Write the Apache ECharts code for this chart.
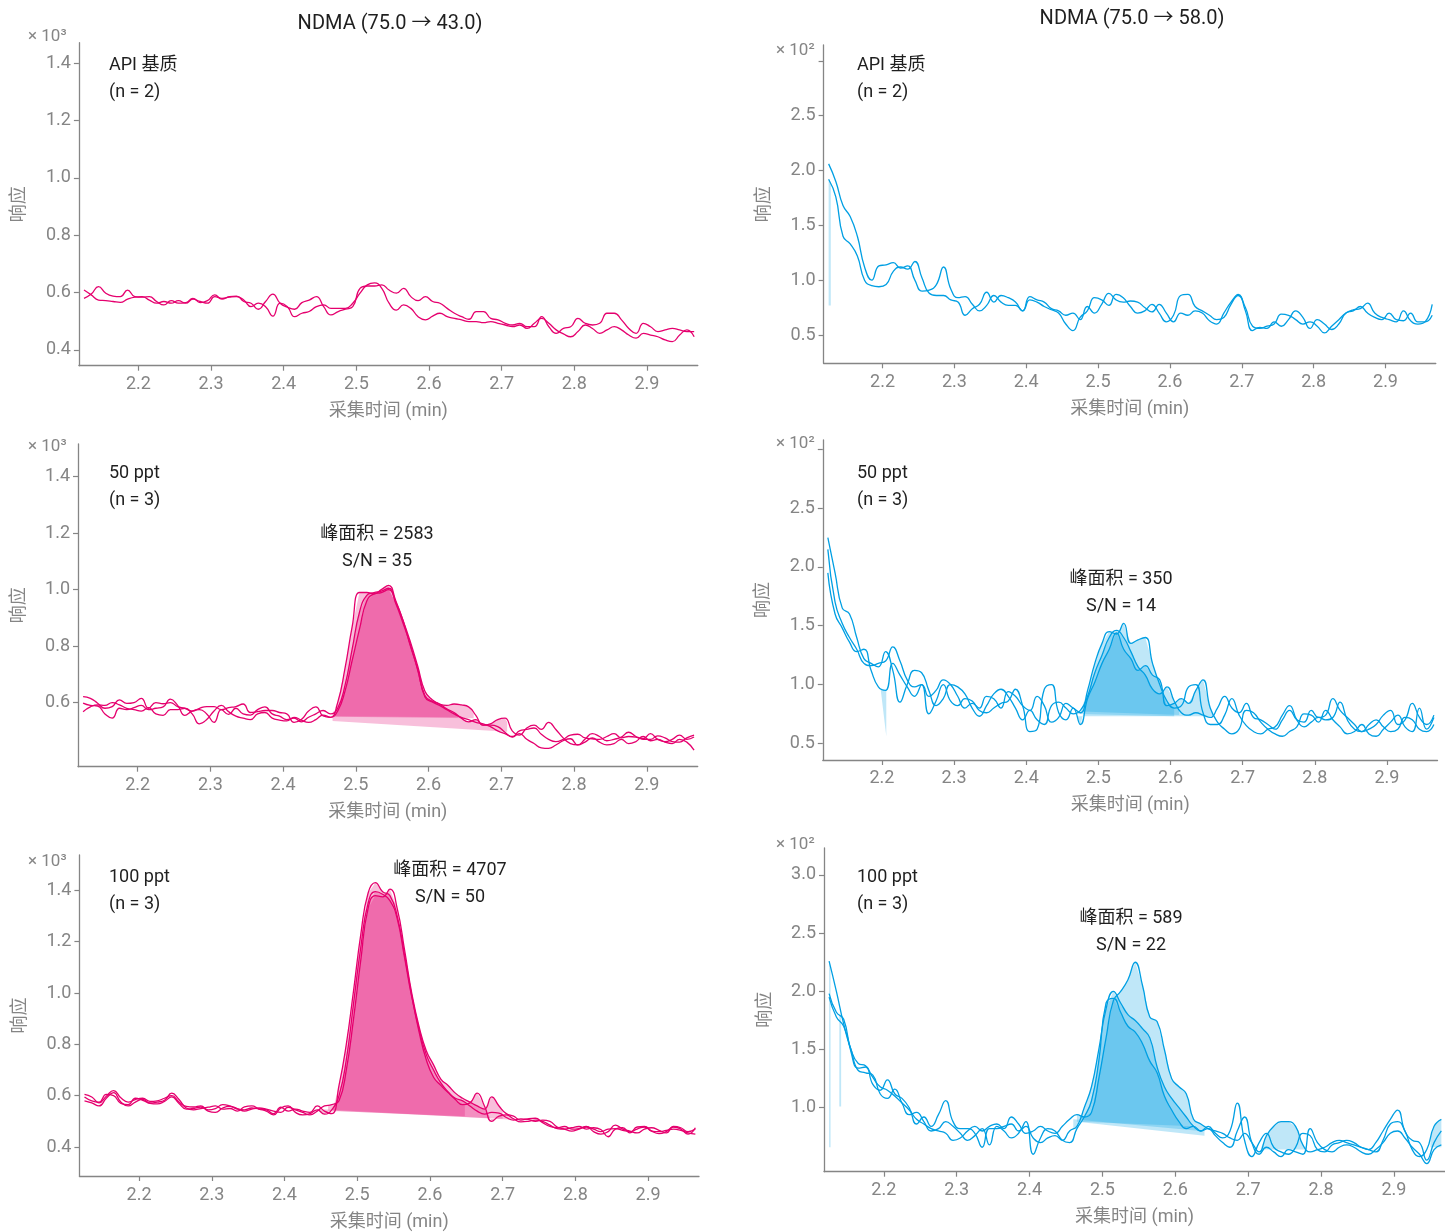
<!DOCTYPE html>
<html>
<head>
<meta charset="utf-8">
<script src="https://cdn.jsdelivr.net/npm/echarts@6/dist/echarts.min.js"></script>
<style>
  html, body { margin: 0; padding: 0; background: #fff; }
  #chart { width: 1445px; height: 1232px; }
</style>
</head>
<body>
<div id="chart"></div>
<script>
// Acquisition times (min), shared by every chromatogram trace
const times = [
  2.125,2.135,2.145,2.155,2.165,2.175,2.185,2.195,2.205,2.215,
  2.225,2.235,2.245,2.255,2.265,2.275,2.285,2.295,2.305,2.315,
  2.325,2.335,2.345,2.355,2.365,2.375,2.385,2.395,2.405,2.415,
  2.425,2.435,2.445,2.455,2.465,2.475,2.485,2.495,2.505,2.515,
  2.525,2.535,2.545,2.555,2.565,2.575,2.585,2.595,2.605,2.615,
  2.625,2.635,2.645,2.655,2.665,2.675,2.685,2.695,2.705,2.715,
  2.725,2.735,2.745,2.755,2.765,2.775,2.785,2.795,2.805,2.815,
  2.825,2.835,2.845,2.855,2.865,2.875,2.885,2.895,2.905,2.915,
  2.925,2.935,2.945,2.955,2.965
];

// NDMA 75.0 -> 43.0, API matrix (n = 2), response counts
const q43_api_1 = [609,592,574,572,569,566,577,584,586,574,563,569,563,572,563,577,569,563,586,580,584,586,574,551,563,551,518,563,551,516,528,534,551,557,545,545,545,563,598,627,634,615,563,539,557,545,516,505,518,528,516,510,505,499,499,495,499,493,487,481,487,475,493,510,493,470,456,446,464,487,475,458,470,481,470,452,441,458,452,446,435,429,452,470,446];
const q43_api_2 = [580,595,621,598,588,586,609,586,584,586,569,557,572,563,565,580,565,572,592,577,586,588,569,563,542,569,595,563,549,542,565,574,586,551,522,534,542,551,615,623,623,627,609,598,615,586,572,586,569,563,545,528,516,507,534,534,510,505,493,487,493,481,481,516,481,458,475,481,510,493,487,493,528,528,505,475,458,493,481,464,470,475,470,464,464];

// NDMA 75.0 -> 58.0, API matrix (n = 2)
const q58_api_1 = [206,190,168,158,140,112,100,113,114,116,111,113,100,90,91,96,112,92,84,85,78,72,77,86,80,77,77,72,82,80,76,73,70,60,54,66,72,84,82,77,87,84,76,70,72,78,70,62,68,86,87,76,72,68,64,66,78,86,75,58,56,58,60,69,68,64,60,62,58,52,58,64,70,73,74,79,70,66,64,62,72,63,60,62,78];
const q58_api_2 = [192,176,140,133,122,100,95,94,96,108,112,110,117,102,88,86,86,82,80,68,74,78,89,80,86,84,80,72,85,82,80,74,72,68,70,64,76,70,78,88,82,80,81,80,75,71,78,70,62,70,68,72,70,63,60,70,80,87,72,54,57,56,62,58,64,72,66,56,64,60,55,60,70,72,76,70,66,64,70,64,63,70,62,62,68];

// NDMA 75.0 -> 43.0, 50 ppt (n = 3)
const q43_50_1 = [621,615,598,580,586,610,597,600,615,580,600,596,600,586,580,570,580,586,586,575,582,586,595,565,568,572,572,565,560,530,540,570,585,553,548,600,720,870,990,990,985,1000,1015,960,890,800,720,620,602,590,575,560,548,540,530,525,515,500,490,480,500,505,510,488,470,462,470,485,488,475,472,470,480,490,475,480,478,470,470,482,475,462,460,475,485];
const q43_50_2 = [598,590,588,560,545,580,575,582,590,575,580,585,612,590,555,570,575,560,530,575,558,580,560,556,575,585,560,552,540,545,532,548,560,572,560,580,660,790,920,980,990,995,1005,950,880,805,715,625,605,595,578,565,545,532,540,520,525,540,545,500,485,510,520,505,530,505,475,455,450,470,490,480,465,470,478,495,480,472,490,470,462,470,485,470,478];
const q43_50_3 = [568,585,592,590,600,592,580,575,570,582,560,555,575,575,580,560,525,540,570,590,568,552,545,540,560,565,545,538,535,548,538,530,540,556,548,570,640,750,860,960,985,990,1000,955,890,815,730,640,610,595,590,595,592,585,555,520,520,515,495,478,490,470,455,440,438,450,465,472,450,460,475,460,450,455,470,455,462,480,465,470,460,455,470,460,432];

// NDMA 75.0 -> 58.0, 50 ppt (n = 3)
const q58_50_1 = [225,195,165,160,140,122,118,115,128,112,85,100,112,110,95,82,88,100,98,92,80,73,82,92,96,90,80,70,78,70,66,82,85,80,75,78,90,110,125,140,146,140,128,115,108,96,92,98,86,76,74,76,74,72,80,90,80,76,84,72,70,66,62,70,78,70,68,78,72,74,88,78,72,66,60,62,66,74,78,66,70,84,72,66,74];
const q58_50_2 = [215,170,152,140,130,118,116,118,120,132,120,104,98,100,90,95,104,100,90,80,84,80,90,88,80,94,90,82,78,90,82,68,72,84,80,76,95,118,135,145,143,152,135,138,140,118,100,86,80,82,98,100,76,66,66,74,88,74,65,60,58,62,64,74,82,70,64,68,72,70,72,85,70,62,60,66,70,64,60,62,72,70,62,60,66];
const q58_50_3 = [195,160,148,136,128,130,112,98,95,118,108,98,90,100,75,86,100,86,82,88,86,78,76,80,84,86,96,82,60,62,96,100,76,70,80,66,88,102,118,130,144,130,122,112,116,108,104,82,84,88,84,95,104,80,68,62,58,62,78,76,68,62,58,56,60,64,75,74,68,78,70,64,58,60,66,58,56,62,68,74,64,60,80,62,72];

// NDMA 75.0 -> 43.0, 100 ppt (n = 3)
const q43_100_1 = [605,595,572,598,620,592,575,585,590,578,580,590,600,575,558,556,560,545,550,565,560,548,545,552,548,545,530,555,540,548,540,535,560,540,530,640,800,1010,1230,1390,1430,1395,1380,1300,1150,990,850,740,672,640,612,590,580,560,540,528,535,532,515,505,510,508,500,505,500,478,470,462,470,478,470,460,470,472,465,460,470,478,462,460,465,470,465,455,450];
const q43_100_2 = [595,580,575,605,600,570,565,590,582,572,575,582,610,585,552,545,550,555,560,548,550,540,556,560,548,540,525,552,560,535,525,530,545,528,545,600,740,960,1180,1350,1395,1385,1360,1290,1140,985,860,760,700,650,615,585,565,572,610,560,500,520,525,510,498,500,505,500,485,472,470,475,480,470,475,468,440,470,475,455,478,480,462,452,460,478,470,450,475];
const q43_100_3 = [580,572,560,590,612,575,560,575,586,570,568,578,595,570,548,550,556,540,535,552,558,550,540,548,552,548,540,535,555,545,535,525,540,560,565,580,700,900,1130,1330,1380,1375,1405,1330,1170,1000,870,775,720,665,640,610,590,575,560,548,595,560,530,520,505,510,512,495,480,475,480,470,472,480,460,450,460,485,470,462,455,470,475,465,455,480,475,460,470];

// NDMA 75.0 -> 58.0, 100 ppt (n = 3)
const q58_100_1 = [226,200,172,150,138,136,126,118,115,110,104,98,90,86,82,80,78,72,74,80,84,80,84,86,82,92,86,78,80,84,80,78,84,90,94,92,96,125,160,192,200,210,225,205,178,174,150,125,118,112,90,86,82,80,78,74,72,78,70,62,76,84,88,88,84,68,62,64,66,70,72,70,68,66,64,62,72,86,88,80,64,58,64,84,90];
const q58_100_2 = [198,182,176,148,134,135,120,115,124,112,108,100,86,92,84,94,106,88,82,82,78,66,82,82,84,86,80,84,74,70,74,76,72,80,84,100,118,150,185,200,190,180,175,168,160,135,118,108,100,92,84,80,84,78,74,80,104,72,58,70,78,66,62,60,66,78,76,64,62,68,70,72,70,66,64,70,80,90,98,80,72,70,55,70,80];
const q58_100_3 = [195,178,170,150,132,130,128,112,108,116,104,94,96,88,80,82,88,84,78,72,76,82,68,84,80,74,78,88,60,74,82,80,72,70,82,92,106,140,190,194,182,170,165,155,140,130,110,98,88,82,84,80,82,76,70,66,80,92,70,60,66,62,58,64,62,60,82,70,64,62,66,68,66,62,60,64,70,78,80,74,66,60,52,64,68];

// Integration windows: [replicate, start time, end time, baseline at start, baseline at end]
const fills43_api = [];
const fills58_api = [[1, 2.125, 2.128, 77, 77]];
const fills43_50 = [[0, 2.472, 2.640, 552, 548], [2, 2.470, 2.662, 550, 545], [1, 2.468, 2.708, 535, 497]];
const fills58_50 = [[2, 2.198, 2.206, 97, 56], [0, 2.478, 2.612, 77, 74], [1, 2.472, 2.605, 75, 73], [2, 2.470, 2.662, 73, 73]];
const fills43_100 = [[0, 2.465, 2.648, 540, 520], [1, 2.445, 2.720, 548, 505], [2, 2.460, 2.700, 542, 510]];
const fills58_100 = [[0, 2.125, 2.127, 66, 66], [1, 2.139, 2.1415, 101, 101], [0, 2.465, 2.640, 88, 76], [1, 2.460, 2.635, 90, 80], [2, 2.470, 2.625, 88, 84], [0, 2.718, 2.780, 64, 64], [0, 2.950, 2.965, 66, 66]];

// Axis ticks
const xTicks = [2.2, 2.3, 2.4, 2.5, 2.6, 2.7, 2.8, 2.9];
const yTicks43 = [400, 600, 800, 1000, 1200, 1400];
const yTicks43_50 = [600, 800, 1000, 1200, 1400];
const yTicks58 = [50, 100, 150, 200, 250, 300];
const yLabels58 = [50, 100, 150, 200, 250];
const yTicks58_100 = [100, 150, 200, 250, 300];

// Texts
const titles = ['NDMA (75.0 \u2192 43.0)', 'NDMA (75.0 \u2192 58.0)'];
const sampleNames = ['API 基质', 'API 基质', '50 ppt', '50 ppt', '100 ppt', '100 ppt'];
const replicateNotes = ['(n = 2)', '(n = 2)', '(n = 3)', '(n = 3)', '(n = 3)', '(n = 3)'];
const peakAreas = [null, null, 2583, 350, 4707, 589];
const signalToNoise = [null, null, 35, 14, 50, 22];

const PINK = '#e5006e';
const BLUE = '#009fe3';
const GRAY = '#858585';
const INK = '#1f1f1f';
const FONT = 'Roboto, "Noto Sans CJK SC", sans-serif';

function rgba(hex, a) {
  const n = parseInt(hex.slice(1), 16);
  return 'rgba(' + (n >> 16 & 255) + ',' + (n >> 8 & 255) + ',' + (n & 255) + ',' + a + ')';
}

// Panel layout (pixel boxes and y ranges)
const panels = [
  { traces: [q43_api_1, q43_api_2], fills: fills43_api, color: PINK, div: 1000, ticks: yTicks43, labels: yTicks43, yr: [345, 1472],
    grid: { left: 78.9, top: 42.7, width: 618.9, height: 323 }, mag: '\u00d7 10\u00b3', magAt: [28, 37], noteAt: [109, 65], peakAt: null },
  { traces: [q58_api_1, q58_api_2], fills: fills58_api, color: BLUE, div: 100, ticks: yTicks58, labels: yLabels58, yr: [24.2, 314.4],
    grid: { left: 823.6, top: 45, width: 612.2, height: 318.3 }, mag: '\u00d7 10\u00b2', magAt: [776, 51], noteAt: [857, 65], peakAt: null },
  { traces: [q43_50_1, q43_50_2, q43_50_3], fills: fills43_50, color: PINK, div: 1000, ticks: yTicks43_50, labels: yTicks43_50, yr: [373, 1516],
    grid: { left: 78, top: 444, width: 619.7, height: 322.7 }, mag: '\u00d7 10\u00b3', magAt: [28, 447], noteAt: [109, 473], peakAt: [377, 534] },
  { traces: [q58_50_1, q58_50_2, q58_50_3], fills: fills58_50, color: BLUE, div: 100, ticks: yTicks58, labels: yLabels58, yr: [35.8, 308],
    grid: { left: 822.8, top: 440, width: 614.7, height: 320 }, mag: '\u00d7 10\u00b2', magAt: [776, 444], noteAt: [857, 473], peakAt: [1121, 579] },
  { traces: [q43_100_1, q43_100_2, q43_100_3], fills: fills43_100, color: PINK, div: 1000, ticks: yTicks43, labels: yTicks43, yr: [287, 1538],
    grid: { left: 79.4, top: 855, width: 619.6, height: 323.3 }, mag: '\u00d7 10\u00b3', magAt: [28, 862], noteAt: [109, 877], peakAt: [450, 870] },
  { traces: [q58_100_1, q58_100_2, q58_100_3], fills: fills58_100, color: BLUE, div: 100, ticks: yTicks58_100, labels: yTicks58_100, yr: [45, 323.2],
    grid: { left: 824, top: 848, width: 622, height: 323.7 }, mag: '\u00d7 10\u00b2', magAt: [776, 845], noteAt: [857, 877], peakAt: [1131, 918] }
];

function valueAt(trace, t) {
  for (let i = 0; i < times.length - 1; i++) {
    if (t >= times[i] && t <= times[i + 1]) {
      const f = (t - times[i]) / (times[i + 1] - times[i]);
      return trace[i] + f * (trace[i + 1] - trace[i]);
    }
  }
  return t < times[0] ? trace[0] : trace[trace.length - 1];
}

const grid = [], xAxis = [], yAxis = [], series = [], graphic = [];

panels.forEach((p, k) => {
  grid.push(Object.assign({ containLabel: false }, p.grid));
  xAxis.push({
    gridIndex: k, type: 'value', min: 2.118, max: 2.97,
    name: '采集时间 (min)', nameLocation: 'middle', nameGap: 37,
    nameTextStyle: { color: GRAY, fontSize: 18, fontFamily: FONT },
    axisLine: { onZero: false, lineStyle: { color: GRAY, width: 1.3 } },
    axisTick: { length: 5, customValues: xTicks, lineStyle: { color: GRAY, width: 1.2 } },
    axisLabel: { customValues: xTicks, margin: 10, color: GRAY, fontSize: 18, fontFamily: FONT,
      formatter: v => v.toFixed(1) },
    splitLine: { show: false }
  });
  yAxis.push({
    gridIndex: k, type: 'value', min: p.yr[0], max: p.yr[1],
    name: '响应', nameLocation: 'middle', nameGap: 50, nameRotate: 90,
    nameTextStyle: { color: GRAY, fontSize: 18, fontFamily: FONT },
    axisLine: { show: true, lineStyle: { color: GRAY, width: 1.3 } },
    axisTick: { show: true, length: 5, customValues: p.ticks, lineStyle: { color: GRAY, width: 1.2 } },
    axisLabel: { customValues: p.labels, margin: 8, color: GRAY, fontSize: 18, fontFamily: FONT,
      formatter: v => (v / p.div).toFixed(1) },
    splitLine: { show: false }
  });

  if (p.fills.length) {
    series.push({
      type: 'custom', xAxisIndex: k, yAxisIndex: k, silent: true, z: 1,
      data: p.fills.map((f, j) => [f[1], f[3], j]),
      renderItem: (params, api) => {
        const f = p.fills[params.dataIndex];
        const tr = p.traces[f[0]];
        const pts = [api.coord([f[1], valueAt(tr, f[1])])];
        times.forEach((t, i) => { if (t > f[1] && t < f[2]) pts.push(api.coord([t, tr[i]])); });
        pts.push(api.coord([f[2], valueAt(tr, f[2])]));
        pts.push(api.coord([f[2], f[4]]));
        pts.push(api.coord([f[1], f[3]]));
        return { type: 'polygon', shape: { points: pts }, style: { fill: rgba(p.color, 0.25) } };
      }
    });
  }

  p.traces.forEach(tr => {
    series.push({
      type: 'line', xAxisIndex: k, yAxisIndex: k, silent: true, z: 2,
      data: times.map((t, i) => [t, tr[i]]),
      smooth: true, showSymbol: false, symbol: 'none',
      lineStyle: { width: 1.3, color: p.color }, itemStyle: { color: p.color }
    });
  });

  const txt = (text, x, y, size, fill, align) => ({
    type: 'text', x: x, y: y, silent: true,
    style: { text: text, font: size + 'px ' + FONT, fill: fill,
      align: align, verticalAlign: 'middle', textAlign: align, textVerticalAlign: 'middle' }
  });
  graphic.push(txt(p.mag, p.magAt[0], p.magAt[1], 17, GRAY, 'left'));
  graphic.push(txt(sampleNames[k], p.noteAt[0], p.noteAt[1], 18, INK, 'left'));
  graphic.push(txt(replicateNotes[k], p.noteAt[0], p.noteAt[1] + 27, 18, INK, 'left'));
  if (p.peakAt) {
    graphic.push(txt('峰面积 = ' + peakAreas[k], p.peakAt[0], p.peakAt[1], 18, INK, 'center'));
    graphic.push(txt('S/N = ' + signalToNoise[k], p.peakAt[0], p.peakAt[1] + 27, 18, INK, 'center'));
  }
});

graphic.push({ type: 'text', x: 390, y: 24, silent: true,
  style: { text: titles[0], font: '20px ' + FONT, fill: INK, align: 'center', verticalAlign: 'middle', textAlign: 'center', textVerticalAlign: 'middle' } });
graphic.push({ type: 'text', x: 1132, y: 19, silent: true,
  style: { text: titles[1], font: '20px ' + FONT, fill: INK, align: 'center', verticalAlign: 'middle', textAlign: 'center', textVerticalAlign: 'middle' } });

const chart = echarts.init(document.getElementById('chart'), null, { renderer: 'canvas' });
chart.setOption({
  animation: false,
  backgroundColor: '#ffffff',
  textStyle: { fontFamily: FONT },
  grid: grid, xAxis: xAxis, yAxis: yAxis, series: series, graphic: graphic
});
</script>
</body>
</html>
